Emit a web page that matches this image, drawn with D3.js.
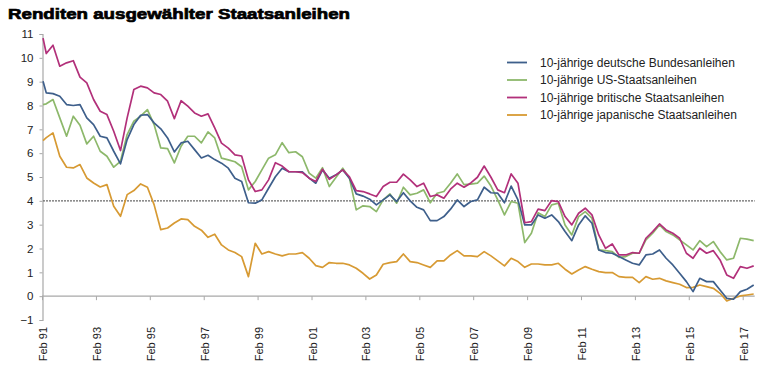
<!DOCTYPE html>
<html>
<head>
<meta charset="utf-8">
<script src="https://cdn.jsdelivr.net/npm/d3@7"></script>
<style>
  html, body { margin: 0; padding: 0; background: #fff; }
  svg { display: block; font-family: "Liberation Sans", Arial, sans-serif; }
</style>
</head>
<body>
<svg id="chart" width="767" height="382"></svg>
<script>
// ---- data ----
const title = "Renditen ausgewählter Staatsanleihen";
const seriesNames = [
  "10-jährige deutsche Bundesanleihen",
  "10-jährige US-Staatsanleihen",
  "10-jährige britische Staatsanleihen",
  "10-jährige japanische Staatsanleihen"
];
const seriesColors = ["#3e5f8b", "#8db86b", "#b2307a", "#d79a33"];

// first observation Feb 1991, then quarter ends Mar 1991 ... Jun 2017
const firstDate = "1991-02-15";
const firstQuarterEnd = "1991-03";
const quarterCount = 106;

const bundData = [9.02,
  8.53, 8.50, 8.39, 8.04, 8.00, 8.04, 7.48, 7.20, 6.71, 6.64,
  6.08, 5.55, 6.57, 7.20, 7.59, 7.62, 7.27, 7.02, 6.64, 6.05,
  6.43, 6.50, 6.15, 5.80, 5.91, 5.73, 5.58, 5.37, 4.95, 4.81,
  3.92, 3.90, 4.04, 4.53, 5.01, 5.37, 5.22, 5.22, 5.22, 4.95,
  4.74, 5.30, 4.95, 5.09, 5.30, 4.95, 4.29, 4.20, 4.07, 3.83,
  4.04, 4.25, 3.97, 4.34, 4.00, 3.73, 3.62, 3.17, 3.17, 3.34,
  3.65, 4.04, 3.76, 3.97, 4.04, 4.57, 4.34, 4.32, 3.92, 4.62,
  4.04, 2.99, 2.99, 3.41, 3.27, 3.41, 3.13, 2.71, 2.33, 2.99,
  3.37, 3.06, 1.94, 1.83, 1.80, 1.66, 1.52, 1.38, 1.31, 1.73,
  1.77, 1.94, 1.59, 1.31, 0.96, 0.61, 0.19, 0.75, 0.61, 0.61,
  0.26, -0.09, -0.13, 0.19, 0.29, 0.47];

const usData = [8.04,
  8.07, 8.25, 7.48, 6.71, 7.55, 7.17, 6.39, 6.71, 6.08, 5.87,
  5.41, 5.66, 6.78, 7.34, 7.55, 7.83, 7.20, 6.22, 6.19, 5.59,
  6.29, 6.71, 6.71, 6.43, 6.89, 6.64, 5.79, 5.72, 5.64, 5.43,
  4.46, 4.81, 5.30, 5.79, 5.93, 6.44, 6.02, 6.06, 5.85, 5.16,
  4.95, 5.39, 4.60, 4.99, 5.37, 4.95, 3.62, 3.79, 3.76, 3.55,
  4.04, 4.29, 3.90, 4.57, 4.25, 4.32, 4.46, 3.92, 4.32, 4.39,
  4.74, 5.13, 4.68, 4.70, 4.74, 5.04, 4.62, 4.04, 3.41, 3.97,
  3.90, 2.25, 2.64, 3.50, 3.34, 3.83, 3.90, 2.99, 2.57, 3.34,
  3.55, 3.27, 1.94, 1.91, 1.87, 1.63, 1.66, 1.80, 1.80, 2.36,
  2.64, 2.99, 2.71, 2.57, 2.36, 2.15, 1.94, 2.33, 2.08, 2.29,
  1.87, 1.52, 1.59, 2.43, 2.39, 2.33];

const ukData = [10.83,
  10.18, 10.53, 9.65, 9.79, 9.88, 9.19, 8.95, 8.25, 7.76, 7.62,
  6.92, 6.11, 7.48, 8.67, 8.81, 8.74, 8.53, 8.46, 8.18, 7.45,
  8.20, 7.97, 7.69, 7.55, 7.65, 7.06, 6.42, 6.21, 5.93, 5.88,
  4.88, 4.39, 4.46, 4.88, 5.60, 5.46, 5.22, 5.22, 5.18, 4.95,
  4.81, 5.33, 4.90, 5.09, 5.30, 5.01, 4.43, 4.39, 4.29, 4.18,
  4.60, 4.78, 4.78, 5.12, 4.88, 4.60, 4.74, 4.18, 4.25, 4.11,
  4.49, 4.74, 4.57, 4.75, 4.99, 5.46, 4.99, 4.46, 4.34, 5.13,
  4.74, 3.08, 3.13, 3.65, 3.59, 4.01, 3.97, 3.34, 2.99, 3.48,
  3.69, 3.41, 2.57, 2.01, 2.19, 1.73, 1.73, 1.83, 1.80, 2.43,
  2.71, 3.03, 2.78, 2.64, 2.43, 1.80, 1.59, 2.01, 1.80, 1.91,
  1.52, 0.89, 0.75, 1.24, 1.17, 1.27];

const jpData = [6.53,
  6.65, 6.85, 5.87, 5.41, 5.38, 5.52, 4.96, 4.75, 4.58, 4.68,
  3.77, 3.35, 4.26, 4.43, 4.71, 4.57, 3.84, 2.79, 2.86, 3.07,
  3.24, 3.21, 2.93, 2.77, 2.47, 2.60, 2.15, 1.94, 1.83, 1.66,
  0.82, 2.22, 1.77, 1.87, 1.77, 1.69, 1.77, 1.77, 1.83, 1.59,
  1.28, 1.21, 1.41, 1.38, 1.38, 1.31, 1.17, 0.96, 0.72, 0.89,
  1.34, 1.41, 1.45, 1.77, 1.45, 1.41, 1.31, 1.21, 1.48, 1.48,
  1.73, 1.91, 1.69, 1.69, 1.66, 1.87, 1.69, 1.48, 1.27, 1.59,
  1.45, 1.21, 1.35, 1.35, 1.31, 1.31, 1.38, 1.13, 0.93, 1.10,
  1.24, 1.13, 1.03, 0.99, 0.99, 0.82, 0.79, 0.79, 0.57, 0.82,
  0.71, 0.75, 0.64, 0.57, 0.50, 0.36, 0.37, 0.47, 0.40, 0.33,
  0.12, -0.20, -0.09, 0.01, 0.05, 0.09];

const yTicks = [-1, 0, 1, 2, 3, 4, 5, 6, 7, 8, 9, 10, 11];
const xTickYears = [1991, 1993, 1995, 1997, 1999, 2001, 2003, 2005, 2007, 2009, 2011, 2013, 2015, 2017];
const referenceLevel = 4;

// ---- build dates ----
const parseDay = d3.timeParse("%Y-%m-%d");
const parseMonth = d3.timeParse("%Y-%m");
const q0 = parseMonth(firstQuarterEnd);
const dates = [parseDay(firstDate)];
for (let j = 0; j < quarterCount; j++) {
  // last day of quarter-end month
  const m = d3.timeMonth.offset(q0, 3 * j + 1);
  dates.push(d3.timeDay.offset(m, -1));
}
const allSeries = [bundData, usData, ukData, jpData];

// ---- scales ----
const svg = d3.select("#chart");
const x = d3.scaleTime()
  .domain([new Date(1991, 1, 1), new Date(2017, 1, 1)])
  .range([42, 742.7]);
const y = d3.scaleLinear().domain([-1, 11]).range([320, 34]);

// ---- title ----
svg.append("text")
  .attr("x", 8).attr("y", 19)
  .attr("font-size", 15).attr("font-weight", "bold")
  .attr("fill", "#000")
  .attr("stroke", "#000").attr("stroke-width", 0.7)
  .attr("textLength", 342).attr("lengthAdjust", "spacingAndGlyphs")
  .text(title);

// ---- y axis ----
const yAxis = d3.axisLeft(y).tickValues(yTicks).tickSize(3).tickPadding(6).tickFormat(d3.format("d"));
const gy = svg.append("g").attr("transform", "translate(42.5,0)").call(yAxis);
gy.select(".domain").attr("stroke", "#a8a8a8").attr("stroke-width", 1.2);
gy.selectAll(".tick line").attr("stroke", "#a8a8a8");
gy.selectAll(".tick text").attr("font-size", 11.5).attr("fill", "#222")
  .attr("font-family", "Liberation Sans, Arial, sans-serif");

// ---- x axis at 0 ----
const xTickDates = xTickYears.map(yr => new Date(yr, 1, 1));
const xAxis = d3.axisBottom(x).tickValues(xTickDates).tickSize(4).tickFormat(() => "");
const gx = svg.append("g").attr("transform", `translate(0,${y(0)})`).call(xAxis);
gx.select(".domain").remove();
gx.selectAll(".tick line").attr("stroke", "#a8a8a8");
svg.append("line")
  .attr("x1", 42).attr("x2", x(dates[dates.length - 1]) + 1)
  .attr("y1", y(0)).attr("y2", y(0))
  .attr("stroke", "#a8a8a8").attr("stroke-width", 1.2);

// rotated tick labels
const fmt = d3.timeFormat("Feb %y");
svg.append("g").selectAll("text")
  .data(xTickDates)
  .join("text")
  .attr("transform", d => `translate(${x(d) + 5},327) rotate(-90)`)
  .attr("text-anchor", "end")
  .attr("font-size", 11)
  .attr("fill", "#222")
  .text(d => fmt(d));

// ---- dotted reference line at 4 ----
svg.append("line")
  .attr("x1", 43).attr("x2", x(dates[dates.length - 1]) + 1)
  .attr("y1", y(referenceLevel)).attr("y2", y(referenceLevel))
  .attr("stroke", "#6a6a6a").attr("stroke-width", 1.3)
  .attr("stroke-dasharray", "2,1");

// ---- lines ----
const line = d3.line()
  .x((d, i) => x(dates[i]))
  .y(d => y(d));
const drawOrder = [3, 1, 0, 2];
drawOrder.forEach(k => {
  svg.append("path")
    .datum(allSeries[k])
    .attr("fill", "none")
    .attr("stroke", seriesColors[k])
    .attr("stroke-width", 1.7)
    .attr("stroke-linejoin", "round")
    .attr("d", line);
});

// ---- legend ----
const legend = svg.append("g");
seriesNames.forEach((name, i) => {
  const ly = 62.5 + i * 17.5;
  legend.append("line")
    .attr("x1", 507).attr("x2", 527)
    .attr("y1", ly).attr("y2", ly)
    .attr("stroke", seriesColors[i]).attr("stroke-width", 1.8);
  legend.append("text")
    .attr("x", 540).attr("y", ly + 4.2)
    .attr("font-size", 12).attr("fill", "#222")
    .text(name);
});
</script>
</body>
</html>
